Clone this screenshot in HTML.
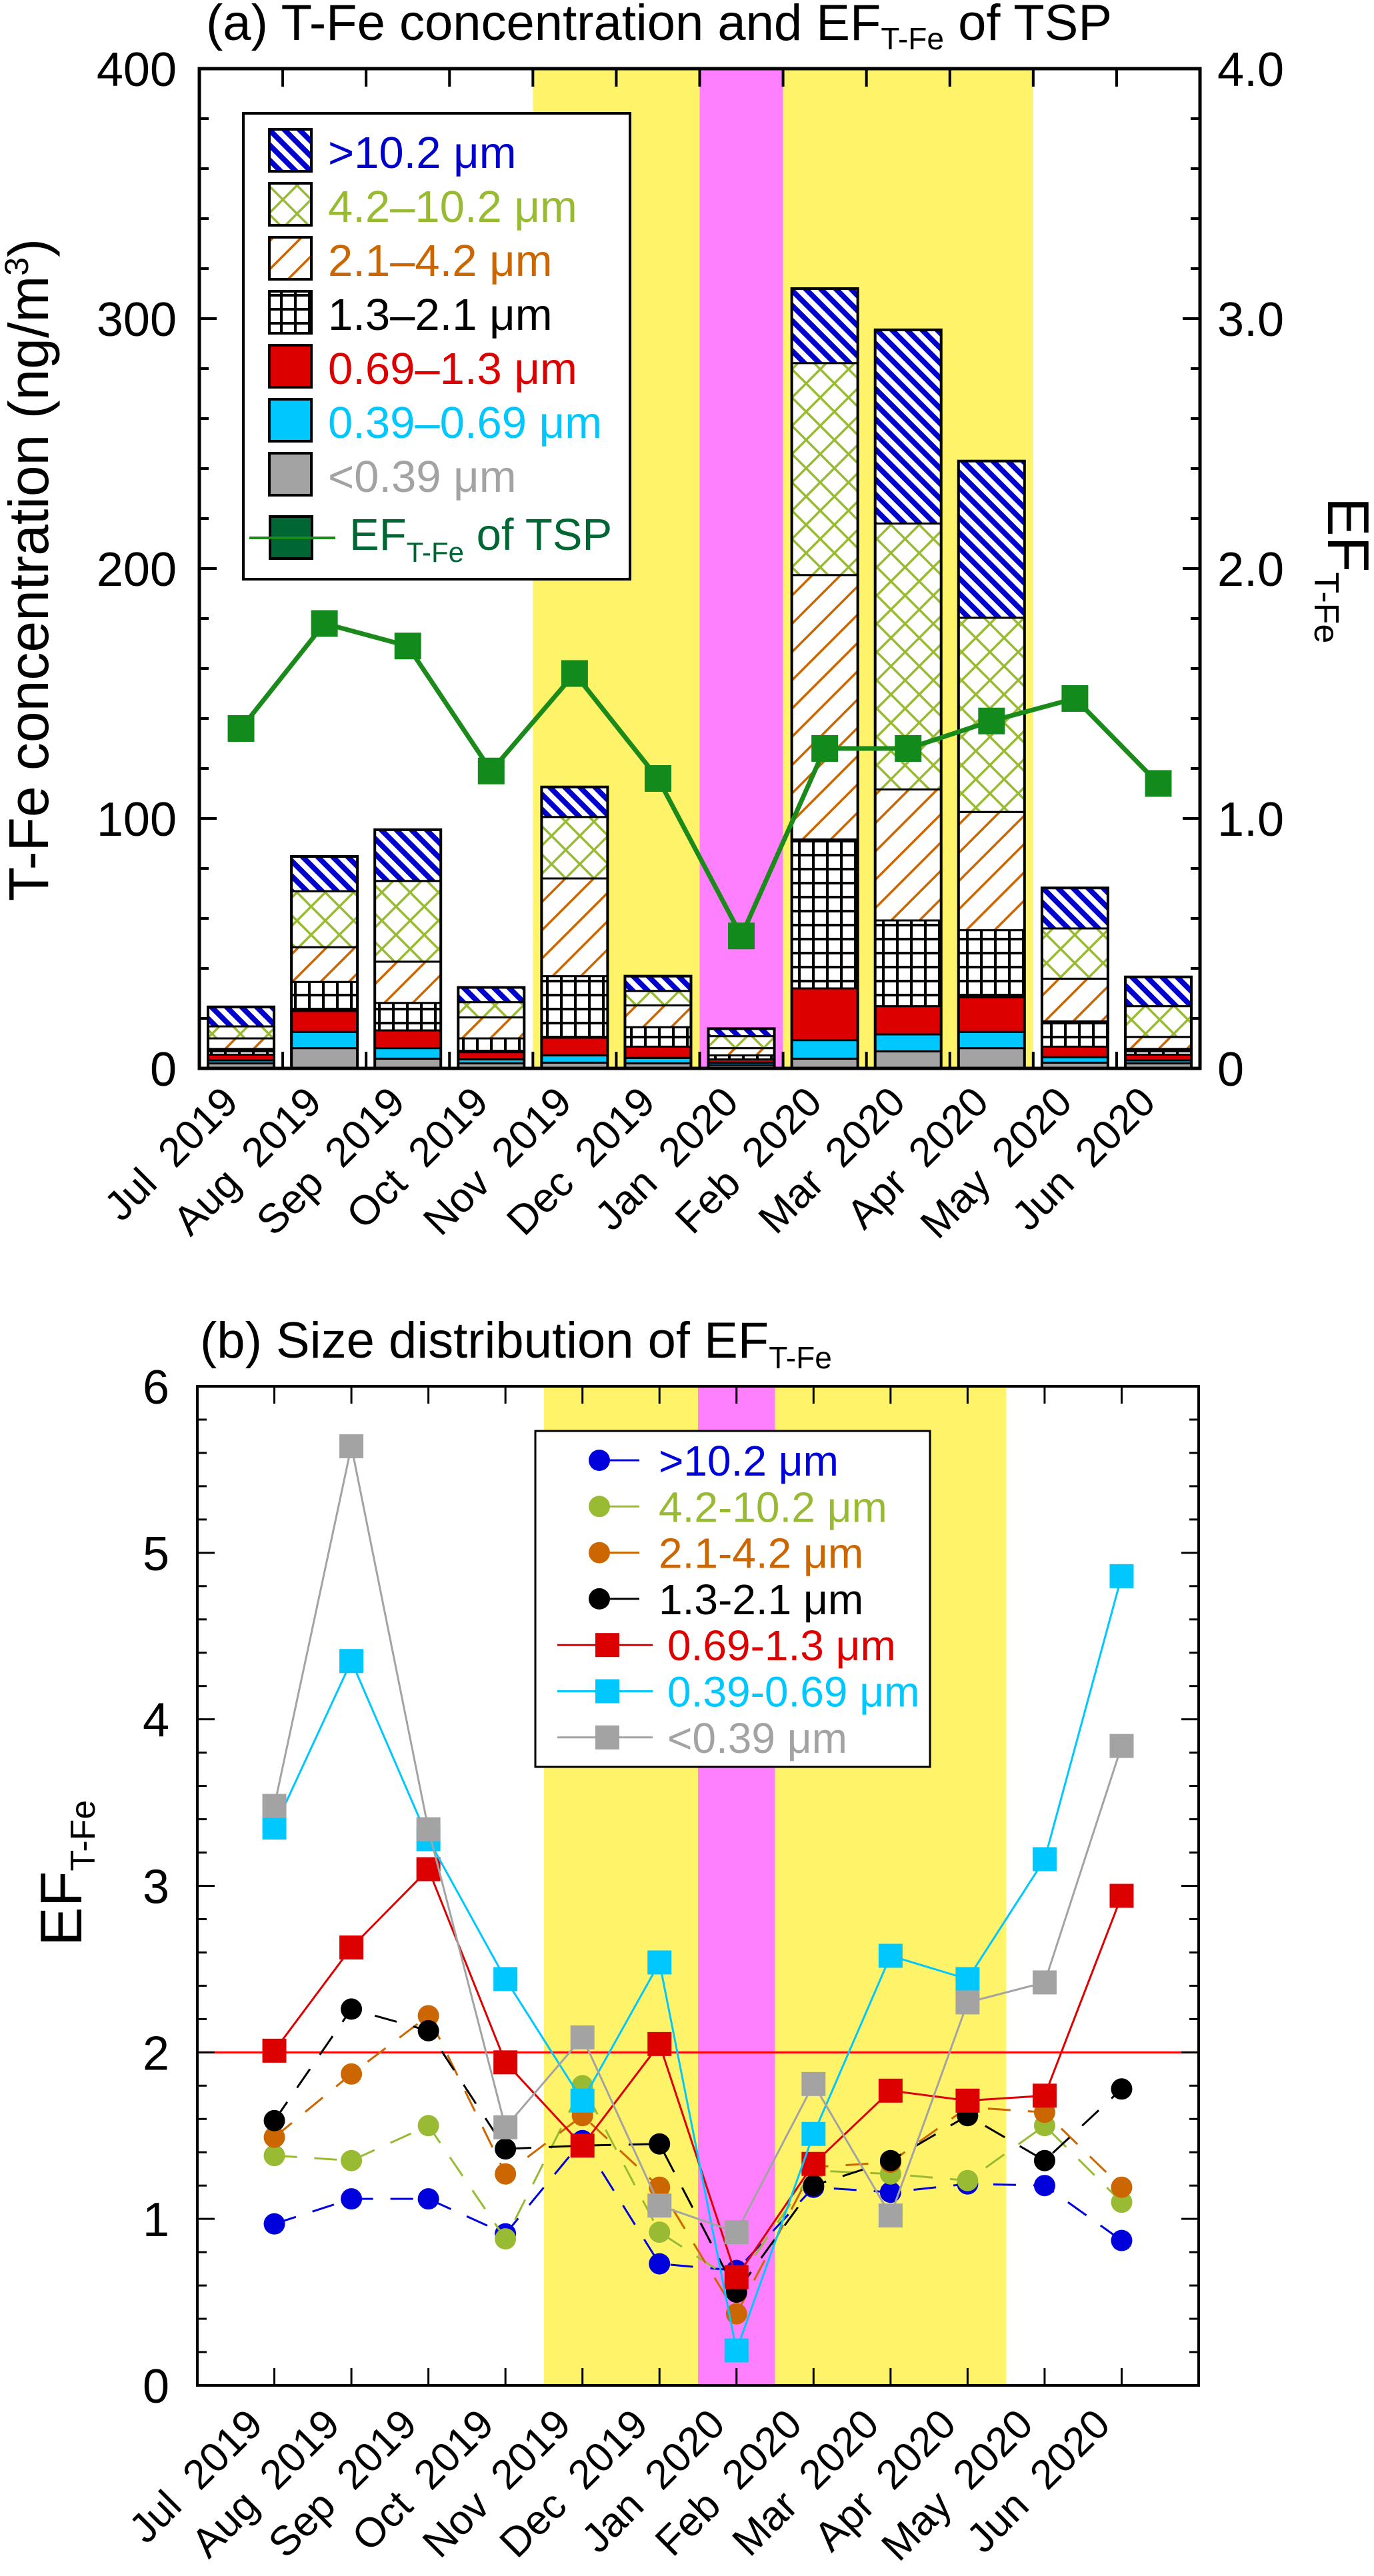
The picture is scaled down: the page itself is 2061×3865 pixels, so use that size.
<!DOCTYPE html>
<html><head><meta charset="utf-8">
<style>
html,body{margin:0;padding:0;background:#fff;}
svg{display:block;font-family:"Liberation Sans",Arial,sans-serif;}
</style></head>
<body>
<svg id="chart" xmlns="http://www.w3.org/2000/svg" width="2061" height="3865" viewBox="0 0 2061 3865">
<defs>
<pattern id="pBlue" patternUnits="userSpaceOnUse" width="16" height="16" patternTransform="rotate(-45)">
<rect width="16" height="16" fill="#fff"/><rect width="8" height="16" fill="#0000cc"/></pattern>
<pattern id="pGreen" patternUnits="userSpaceOnUse" width="30" height="30" patternTransform="rotate(45)">
<rect width="30" height="30" fill="#fff"/><rect width="3.5" height="30" fill="#99bb33"/><rect width="30" height="3.5" fill="#99bb33"/></pattern>
<pattern id="pOrange" patternUnits="userSpaceOnUse" width="30" height="30" patternTransform="rotate(45)">
<rect width="30" height="30" fill="#fff"/><rect width="3.5" height="30" fill="#cc6600"/></pattern>
<pattern id="pGrid" patternUnits="userSpaceOnUse" width="21" height="21">
<rect width="21" height="21" fill="#fff"/><rect width="4" height="21" fill="#000"/><rect width="21" height="4" fill="#000"/></pattern>
</defs>
<g id="panelA"></g>
<g id="panelB"></g>
</svg>
<script>
// ---------- Panel (a) data ----------
const months = ["Jul 2019","Aug 2019","Sep 2019","Oct 2019","Nov 2019","Dec 2019","Jan 2020","Feb 2020","Mar 2020","Apr 2020","May 2020","Jun 2020"];
const conc_lt039   = [2,8.1,3.9,2,2.3,2,1.3,3.9,6.8,8.1,2.3,2];
const conc_039_069 = [1.2,6.5,4.2,1.6,2.9,2.2,1,7.4,6.8,6.5,2.2,1.2];
const conc_069_13  = [2.3,8.4,7.1,2.9,7.1,4.5,1.3,20.7,11.3,13.9,4.2,2.3];
const conc_13_21   = [2.3,11.6,11,5.5,24.6,7.8,1.6,59.6,34.3,26.8,10.1,2.3];
const conc_21_42   = [4.2,13.9,16.5,8.4,39.1,8.7,2.9,105.8,52.4,47.3,17.1,4.8];
const conc_42_102  = [4.8,22.4,32.3,6.1,24.6,5.8,4.8,84.8,106.4,77.7,20.1,12.3];
const conc_gt102   = [7.8,13.9,20.5,5.9,12,5.9,3,29.8,77.5,62.7,16.2,11.7];
const efTSP        = [1.36,1.78,1.69,1.19,1.58,1.16,0.53,1.28,1.28,1.39,1.48,1.14];
const leftTicksA   = [0,100,200,300,400];
const rightTicksA  = ["0","1.0","2.0","3.0","4.0"];

// ---------- Panel (b) data ----------
const ef_gt102   = [0.97,1.12,1.12,0.91,1.47,0.73,0.69,1.19,1.16,1.21,1.20,0.87];
const ef_42_102  = [1.38,1.35,1.56,0.88,1.80,0.92,0.62,1.29,1.27,1.23,1.56,1.10];
const ef_21_42   = [1.49,1.87,2.22,1.27,1.62,1.19,0.43,1.31,1.34,1.67,1.64,1.19];
const ef_13_21   = [1.59,2.26,2.13,1.42,1.44,1.45,0.56,1.20,1.35,1.62,1.35,1.78];
const ef_069_13  = [2.01,2.63,3.10,1.94,1.44,2.05,0.65,1.33,1.77,1.71,1.74,2.94];
const ef_039_069 = [3.35,4.35,3.28,2.44,1.71,2.54,0.21,1.51,2.58,2.44,3.16,4.86];
const ef_lt039   = [3.48,5.64,3.34,1.55,2.09,1.08,0.92,1.81,1.02,2.30,2.42,3.84];
const leftTicksB = [0,1,2,3,4,5,6];

const NS="http://www.w3.org/2000/svg";
function mk(parent,tag,attrs,text){const e=document.createElementNS(NS,tag);for(const k in attrs)e.setAttribute(k,attrs[k]);if(text!==undefined)e.textContent=text;parent.appendChild(e);return e;}
function lab(m){return m.replace(' ','\u00a0\u00a0');}

// ===== Panel A =====
(function(){
const g=document.getElementById('panelA');
const L=299,R=1800,T=103,B=1603;
const x=i=>L+(i+0.5)*(R-L)/12;
const y=v=>B-v*(B-T)/400;
const y2=v=>B-v*(B-T)/4;
const bw=99;
let e;
e=mk(g,'rect',{x:x(3.5),y:T,width:x(5.5)-x(3.5),height:B-T,fill:'#fff36a'});

e=mk(g,'rect',{x:x(5.5),y:T,width:x(6.5)-x(5.5),height:B-T,fill:'#ff80ff'});

e=mk(g,'rect',{x:x(6.5),y:T,width:x(9.5)-x(6.5),height:B-T,fill:'#fff36a'});


const layers=[[conc_lt039,'#a3a3a3','lt039'],[conc_039_069,'#00c8ff','039-069'],[conc_069_13,'#dd0000','069-13'],[conc_13_21,'url(#pGrid)','13-21'],[conc_21_42,'url(#pOrange)','21-42'],[conc_42_102,'url(#pGreen)','42-102'],[conc_gt102,'url(#pBlue)','gt102']];
for(let i=0;i<12;i++){
  let cum=0;
  const bg=mk(g,'g',{});
  
  
  for(const [arr,fill,nm] of layers){
    const v=arr[i];
    e=mk(bg,'rect',{x:x(i)-bw/2,y:y(cum+v),width:bw,height:y(cum)-y(cum+v),fill:fill,stroke:'#000','stroke-width':3});
    
    
    cum+=v;
  }
  e=mk(bg,'rect',{x:x(i)-bw/2,y:y(cum),width:bw,height:y(0)-y(cum),fill:'none',stroke:'#000','stroke-width':4});
  
}
let pts=efTSP.map((v,i)=>x(i)+','+y2(v)).join(' ');
e=mk(g,'polyline',{points:pts,fill:'none',stroke:'#1a8a1a','stroke-width':7,'stroke-linejoin':'round'});

efTSP.forEach((v,i)=>{
  e=mk(g,'rect',{x:x(i)-20,y:y2(v)-20,width:40,height:40,fill:'#138a1c'});
  
});
e=mk(g,'rect',{x:L,y:T,width:R-L,height:B-T,fill:'none',stroke:'#000','stroke-width':5});

for(let v=0;v<=400;v+=20){
  const len=v%100===0?26:14;
  mk(g,'line',{x1:L,y1:y(v),x2:L+len,y2:y(v),stroke:'#000','stroke-width':4});
  mk(g,'line',{x1:R,y1:y(v),x2:R-len,y2:y(v),stroke:'#000','stroke-width':4});
}
for(let i=0;i<11;i++){
  mk(g,'line',{x1:x(i+0.5),y1:T,x2:x(i+0.5),y2:T+27,stroke:'#000','stroke-width':4});
  mk(g,'line',{x1:x(i+0.5),y1:B,x2:x(i+0.5),y2:B-25,stroke:'#000','stroke-width':4});
}
leftTicksA.forEach(v=>{
  e=mk(g,'text',{x:265,y:y(v)+26,'font-size':72,'text-anchor':'end'},String(v));
  
});
rightTicksA.forEach((t,k)=>{
  e=mk(g,'text',{x:1826,y:y2(k)+26,'font-size':72},t);
  
});
months.forEach((m,i)=>{
  const px=x(i)-1,py=B+54;
  e=mk(g,'text',{x:px,y:py,'font-size':62,'text-anchor':'end',transform:'rotate(-45 '+px+' '+py+')'},lab(m));
  
});
e=mk(g,'text',{x:309,y:60,'font-size':76});

e.innerHTML='(a) T-Fe concentration and EF<tspan font-size="46" dy="14">T-Fe</tspan><tspan dy="-14"> of TSP</tspan>';
e=mk(g,'text',{x:0,y:0,'font-size':84,'text-anchor':'middle',transform:'translate(72 855) rotate(-90)'});

e.innerHTML='T-Fe concentration (ng/m<tspan font-size="50" dy="-30">3</tspan><tspan dy="30">)</tspan>';
e=mk(g,'text',{x:0,y:0,'font-size':88,transform:'translate(1992 746) rotate(90)'});

e.innerHTML='EF<tspan font-size="52" dy="20">T-Fe</tspan>';
const lg=mk(g,'g',{});

mk(lg,'rect',{x:365,y:170,width:580,height:699,fill:'#fff',stroke:'#000','stroke-width':4});
const leg=[['url(#pBlue)','#0000cc','>10.2 μm'],['url(#pGreen)','#99bb33','4.2–10.2 μm'],['url(#pOrange)','#cc6600','2.1–4.2 μm'],['url(#pGrid)','#000','1.3–2.1 μm'],['#dd0000','#dd0000','0.69–1.3 μm'],['#00c8ff','#00c8ff','0.39–0.69 μm'],['#a3a3a3','#a3a3a3','<0.39 μm']];
leg.forEach((l,k)=>{
  const ty=194+k*81;
  const eg=mk(lg,'g',{});
  
  mk(eg,'rect',{x:404,y:ty,width:63,height:63,fill:l[0],stroke:'#000','stroke-width':4});
  mk(eg,'text',{x:492,y:ty+58,'font-size':67,fill:l[1]},l[2]);
});
const eg=mk(lg,'g',{});

mk(eg,'rect',{x:405,y:775,width:63,height:63,fill:'#006633',stroke:'#000','stroke-width':4});
mk(eg,'line',{x1:374,y1:807,x2:503,y2:807,stroke:'#1a8a1a','stroke-width':4});
e=mk(eg,'text',{x:524,y:825,'font-size':67,fill:'#006633'});
e.innerHTML='EF<tspan font-size="42" dy="18">T-Fe</tspan><tspan dy="-18"> of TSP</tspan>';
})();

// ===== Panel B =====
(function(){
const g=document.getElementById('panelB');
const L=296,R=1798,T=2080,B=3579;
const x=i=>L+(i+1)*(R-L)/13;
const y=v=>B-v*(B-T)/6;
let e;
e=mk(g,'rect',{x:x(3.5),y:T,width:x(5.5)-x(3.5),height:B-T,fill:'#fff36a'});

e=mk(g,'rect',{x:x(5.5),y:T,width:x(6.5)-x(5.5),height:B-T,fill:'#ff80ff'});

e=mk(g,'rect',{x:x(6.5),y:T,width:x(9.5)-x(6.5),height:B-T,fill:'#fff36a'});

e=mk(g,'line',{x1:L,y1:y(2),x2:R,y2:y(2),stroke:'#ff0000','stroke-width':3});


const series=[[ef_gt102,'#0000dd','c','gt102'],[ef_42_102,'#99bb33','c','42-102'],[ef_21_42,'#cc6600','c','21-42'],[ef_13_21,'#000','c','13-21'],[ef_069_13,'#dd0000','s','069-13'],[ef_039_069,'#00c8ff','s','039-069'],[ef_lt039,'#a3a3a3','s','lt039']];
series.forEach(([arr,col,shape,nm])=>{
  const sg=mk(g,'g',{});
  
  const pts=arr.map((v,i)=>x(i)+','+y(v)).join(' ');
  const a={points:pts,fill:'none',stroke:col,'stroke-width':3};
  if(shape==='c')a['stroke-dasharray']='34 26';
  e=mk(sg,'polyline',a);
  
  arr.forEach((v,i)=>{
    if(shape==='c')e=mk(sg,'circle',{cx:x(i),cy:y(v),r:16,fill:col});
    else e=mk(sg,'rect',{x:x(i)-18,y:y(v)-18,width:36,height:36,fill:col});
    
  });
});
e=mk(g,'rect',{x:L,y:T,width:R-L,height:B-T,fill:'none',stroke:'#000','stroke-width':4});

for(let k=0;k<=30;k++){
  const v=k*0.2,len=k%5===0?26:14;
  mk(g,'line',{x1:L,y1:y(v),x2:L+len,y2:y(v),stroke:'#000','stroke-width':3});
  mk(g,'line',{x1:R,y1:y(v),x2:R-len,y2:y(v),stroke:'#000','stroke-width':3});
}
for(let i=0;i<12;i++){
  mk(g,'line',{x1:x(i),y1:T,x2:x(i),y2:T+26,stroke:'#000','stroke-width':3});
  mk(g,'line',{x1:x(i),y1:B,x2:x(i),y2:B-26,stroke:'#000','stroke-width':3});
}
leftTicksB.forEach(v=>{
  e=mk(g,'text',{x:254,y:y(v)+26,'font-size':72,'text-anchor':'end'},String(v));
  
});
months.forEach((m,i)=>{
  const px=x(i)-14,py=B+62;
  e=mk(g,'text',{x:px,y:py,'font-size':62,'text-anchor':'end',transform:'rotate(-45 '+px+' '+py+')'},lab(m));
  
});
e=mk(g,'text',{x:300,y:2037,'font-size':76});

e.innerHTML='(b) Size distribution of EF<tspan font-size="46" dy="16">T-Fe</tspan>';
e=mk(g,'text',{x:0,y:0,'font-size':88,transform:'translate(122 2920) rotate(-90)'});

e.innerHTML='EF<tspan font-size="52" dy="20">T-Fe</tspan>';
const lg=mk(g,'g',{});

mk(lg,'rect',{x:803,y:2147,width:592,height:504,fill:'#fff',stroke:'#000','stroke-width':3});
const labs=['>10.2 μm','4.2-10.2 μm','2.1-4.2 μm','1.3-2.1 μm','0.69-1.3 μm','0.39-0.69 μm','<0.39 μm'];
const tcol=['#0000dd','#99bb33','#cc6600','#000','#dd0000','#00c8ff','#a3a3a3'];
labs.forEach((t,k)=>{
  const ry=2191+k*69.3;
  const eg=mk(lg,'g',{});
  
  if(k<4){
    mk(eg,'line',{x1:899,y1:ry,x2:959,y2:ry,stroke:tcol[k],'stroke-width':3});
    mk(eg,'circle',{cx:899,cy:ry,r:16,fill:tcol[k]});
    mk(eg,'text',{x:988,y:ry+23,'font-size':64,fill:tcol[k]},t);
  }else{
    mk(eg,'line',{x1:836,y1:ry,x2:979,y2:ry,stroke:tcol[k],'stroke-width':3});
    mk(eg,'rect',{x:893,y:ry-18,width:36,height:36,fill:tcol[k]});
    mk(eg,'text',{x:1001,y:ry+23,'font-size':64,fill:tcol[k]},t);
  }
});
})();
</script>
</body></html>
